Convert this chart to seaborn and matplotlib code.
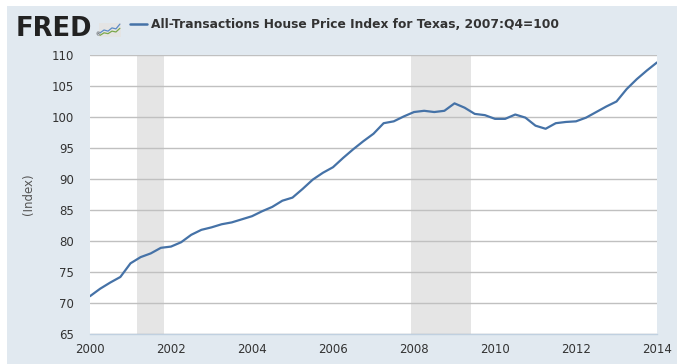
import numpy as np
import pandas as pd
import matplotlib
matplotlib.use("Agg")
import matplotlib.pyplot as plt
from matplotlib.patches import Rectangle
from matplotlib.lines import Line2D
import seaborn as sns

# ---- data (quarterly, 2000Q1 .. 2014Q1) ----
start_year = 2000
hpi_values = [
    71.1, 72.3, 73.3, 74.2, 76.4, 77.4, 78.0, 78.9,
    79.1, 79.8, 81.0, 81.8, 82.2, 82.7, 83.0, 83.5,
    84.0, 84.8, 85.5, 86.5, 87.0, 88.4, 89.9, 91.0,
    91.9, 93.4, 94.8, 96.1, 97.3, 99.0, 99.3, 100.1,
    100.8, 101.0, 100.8, 101.0, 102.2, 101.5, 100.5, 100.3,
    99.7, 99.7, 100.4, 99.9, 98.6, 98.1, 99.0, 99.2,
    99.3, 99.9, 100.8, 101.7, 102.5, 104.5, 106.1, 107.5,
    108.8,
]
recession_starts = [2001.162, 2007.915]
recession_ends = [2001.833, 2009.414]
x_ticks = [2000, 2002, 2004, 2006, 2008, 2010, 2012, 2014]
y_ticks = [65, 70, 75, 80, 85, 90, 95, 100, 105, 110]
title_text = "All-Transactions House Price Index for Texas, 2007:Q4=100"
y_label = "(Index)"
logo_text = "FRED"
# logo icon sparklines
icon_blue = [0.30, 0.50, 0.42, 0.65, 0.58, 0.92]
icon_green = [0.12, 0.30, 0.24, 0.42, 0.36, 0.62]

quarters = start_year + np.arange(len(hpi_values)) / 4.0
df = pd.DataFrame({"date": quarters, "value": hpi_values})

# ---- style ----
sns.set_style("white")
plt.rcParams["font.family"] = ["DejaVu Sans"]

LINE = "#4572a7"
PANEL = "#e1e9f0"
GRID = "#c0c0c0"
TXT = "#333333"
AXIS = "#c0d0e0"

W, H = 683, 364
fig = plt.figure(figsize=(W / 100, H / 100), dpi=100, facecolor="white")

# background panel
fig.patches.append(Rectangle((7 / W, 0), 670 / W, 1 - 6 / H, transform=fig.transFigure,
                             facecolor=PANEL, edgecolor="none", zorder=-10))

ax = fig.add_axes([90 / W, 1 - 334 / H, 567 / W, 279 / H])
ax.set_facecolor("white")

for s, e in zip(recession_starts, recession_ends):
    ax.axvspan(s, e, color="#e5e5e5", lw=0, zorder=0)

sns.lineplot(data=df, x="date", y="value", ax=ax, color=LINE, lw=1.6, zorder=3)

ax.set_xlim(2000, 2014)
ax.set_ylim(65, 110)
ax.set_xticks(x_ticks)
ax.set_xticklabels([str(t) for t in x_ticks])
ax.set_yticks(y_ticks)
ax.set_yticklabels([str(t) for t in y_ticks])
ax.grid(axis="y", color=GRID, lw=1.0, zorder=1)
ax.grid(axis="x", visible=False)
for sp in ["top", "right", "left"]:
    ax.spines[sp].set_visible(False)
ax.spines["bottom"].set_color(AXIS)
ax.spines["bottom"].set_linewidth(1.0)
ax.spines["bottom"].set_zorder(4)
ax.tick_params(axis="x", length=5, width=1, color=AXIS, labelsize=8.5, labelcolor=TXT, pad=1.5, direction="out")
ax.tick_params(axis="y", length=0, labelsize=8.5, labelcolor=TXT, pad=11.5)
ax.set_xlabel("")
ax.set_ylabel("")
fig.text(28 / W, 1 - 194 / H, y_label, rotation=90, ha="center", va="center",
         fontsize=8.5, color="#555555")

# header: logo + legend line + title
fig.text(16 / W, 1 - 36 / H, logo_text, fontsize=18.5, fontweight="heavy", color="#222222",
         ha="left", va="baseline")
fig.text(95 / W, 1 - 36.5 / H, "®", fontsize=3.5, color="#222222", ha="left", va="baseline")
iax = fig.add_axes([99 / W, 1 - 37 / H, 22 / W, 14 / H])
iax.set_facecolor("#e4e4e4")
iax.plot(np.linspace(0.05, 0.95, len(icon_blue)), icon_blue, color="#5b8bc7", lw=0.9)
iax.plot(np.linspace(0.05, 0.95, len(icon_green)), icon_green, color="#7aa84a", lw=0.9)
iax.set_xlim(0, 1)
iax.set_ylim(0, 1)
iax.set_xticks([])
iax.set_yticks([])
for sp in iax.spines.values():
    sp.set_visible(False)

fig.add_artist(Line2D([130 / W, 147 / W], [1 - 24 / H, 1 - 24 / H], transform=fig.transFigure,
                      color=LINE, lw=1.8))
fig.text(151 / W, 1 - 24 / H, title_text, fontsize=8.8, fontweight="bold", color=TXT,
         ha="left", va="center")

fig.savefig("out.png", dpi=100, facecolor="white")
